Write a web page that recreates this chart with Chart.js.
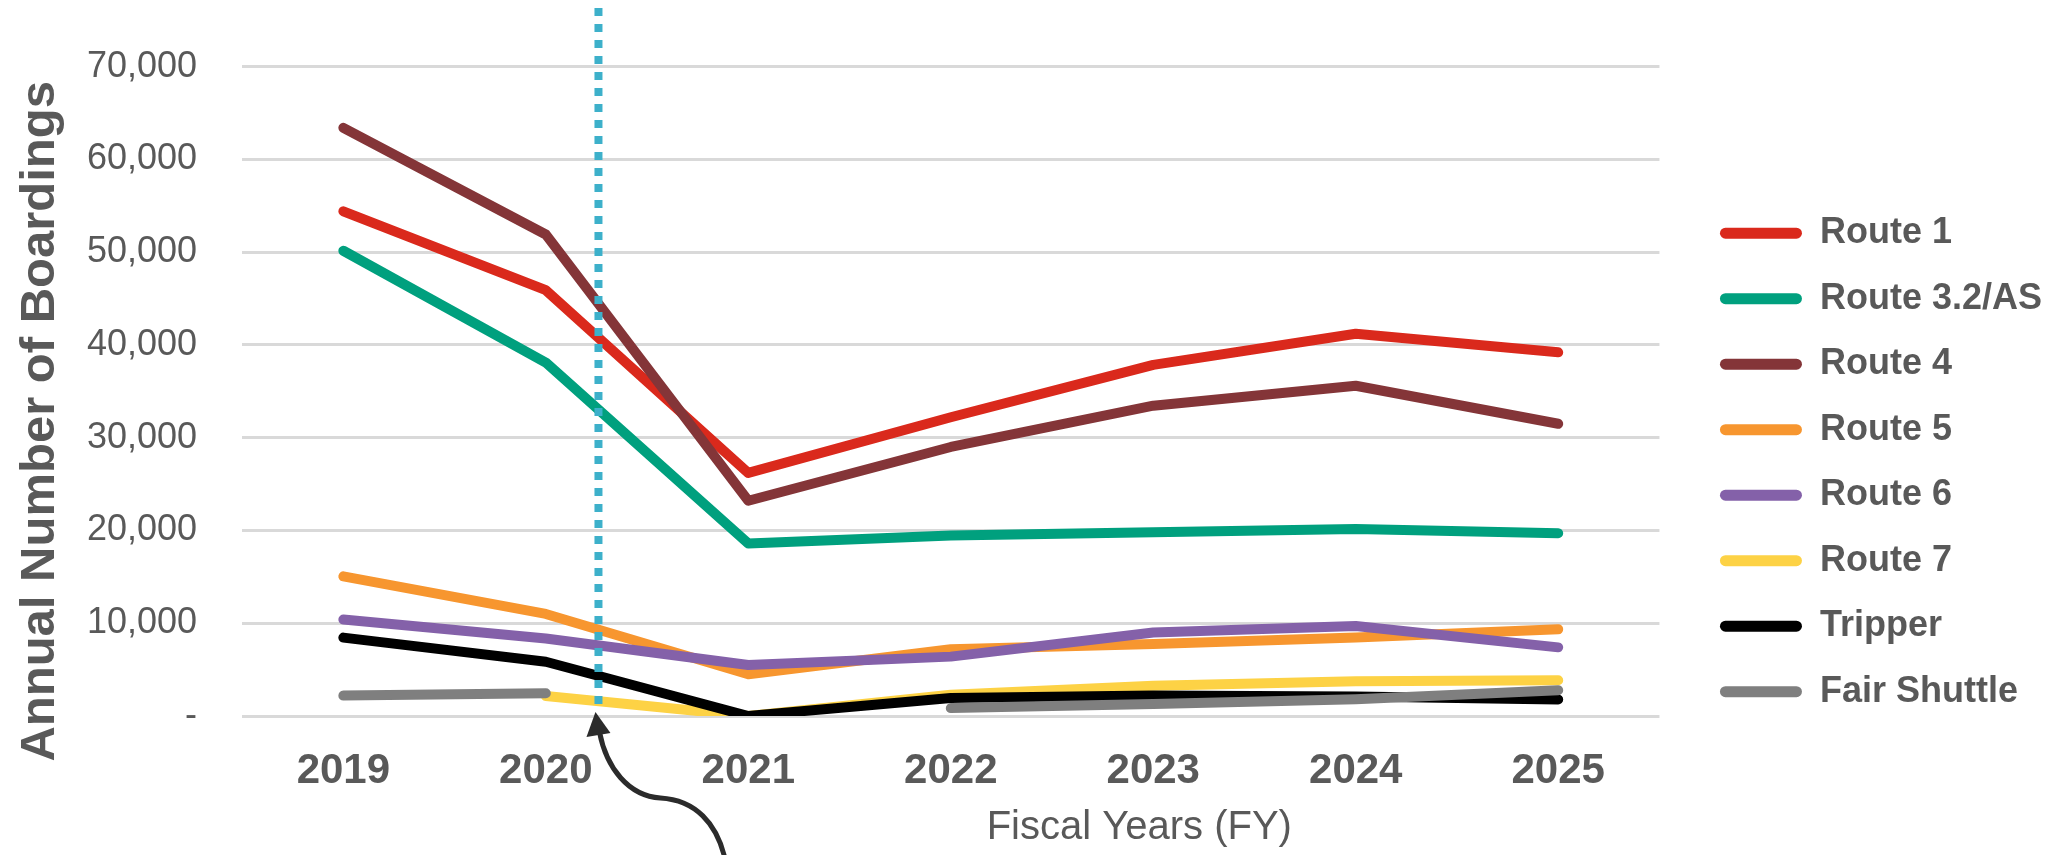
<!DOCTYPE html>
<html>
<head>
<meta charset="utf-8">
<script src="https://cdn.jsdelivr.net/npm/chart.js@4"></script>
<style>
  html, body { margin: 0; padding: 0; background: #ffffff; }
  #wrap { width: 2054px; height: 855px; position: relative; }
</style>
</head>
<body>
<div id="wrap"><canvas id="c"></canvas></div>
<script>
// ---- Data ----
const fiscalYears = ['2019', '2020', '2021', '2022', '2023', '2024', '2025'];
const seriesNames = ['Route 1', 'Route 3.2/AS', 'Route 4', 'Route 5', 'Route 6', 'Route 7', 'Tripper', 'Fair Shuttle'];
const route1      = [54400, 45900, 26200, 32200, 37850, 41200, 39200];
const route32AS   = [50150, 38100, 18600, 19450, 19800, 20150, 19700];
const route4      = [63400, 51900, 23200, 29000, 33450, 35600, 31500];
const route5      = [15050, 11000, 4500, 7200, 7750, 8450, 9350];
const route6      = [10400, 8350, 5500, 6400, 9000, 9700, 7400];
const route7      = [null, 2150, 0, 2300, 3250, 3750, 3850];
const tripper     = [8450, 5850, 0, 1950, 2200, 2100, 1780];
const fairShuttle = [2200, 2450, null, 850, 1300, 1800, 2780];
const yTickValues = [0, 10000, 20000, 30000, 40000, 50000, 60000, 70000];
const yAxisTitle = 'Annual Number of Boardings';
const xAxisTitle = 'Fiscal Years (FY)';
const covidMarkerIndex = 1.26; // position of the dotted marker between FY2020 and FY2021

const seriesValues = [route1, route32AS, route4, route5, route6, route7, tripper, fairShuttle];
const seriesColors = ['#DA291C', '#00A07E', '#843538', '#F7962F', '#8461A9', '#FDD245', '#000000', '#7F7F7F'];

const FONT = "'Liberation Sans', Arial, sans-serif";
const GRAY_TEXT = '#595959';

const datasets = seriesNames.map((name, i) => ({
  label: name,
  data: seriesValues[i],
  borderColor: seriesColors[i],
  backgroundColor: seriesColors[i],
  borderWidth: 10,
  borderCapStyle: 'round',
  borderJoinStyle: 'round',
  pointRadius: 0,
  pointHoverRadius: 0,
  fill: false,
  tension: 0,
  spanGaps: false,
  order: seriesNames.length - i
}));

const decorPlugin = {
  id: 'decor',
  afterLayout(chart) {
    // nudge the legend to the right to leave the gap seen in the reference
    const lg = chart.legend;
    if (lg) { lg.left += 31; lg.right += 31; }
  },
  afterDatasetsDraw(chart) {
    const ctx = chart.ctx;
    const xs = chart.scales.x, ys = chart.scales.y, ca = chart.chartArea;
    const x0 = xs.getPixelForValue(covidMarkerIndex);
    const yb = ys.getPixelForValue(0);
    // dotted marker line
    ctx.save();
    ctx.strokeStyle = '#3DB0CA';
    ctx.lineWidth = 8;
    ctx.setLineDash([8, 8]);
    ctx.beginPath();
    ctx.moveTo(x0, 8);
    ctx.lineTo(x0, yb - 12);
    ctx.stroke();
    ctx.restore();
    // curved arrow
    ctx.save();
    ctx.strokeStyle = '#2B2B2B';
    ctx.fillStyle = '#2B2B2B';
    ctx.lineWidth = 5;
    ctx.beginPath();
    ctx.moveTo(x0 + 1, yb + 16);
    ctx.bezierCurveTo(x0 + 8, yb + 52, x0 + 30, yb + 80, x0 + 62, yb + 82);
    ctx.bezierCurveTo(x0 + 95, yb + 84, x0 + 120, yb + 105, x0 + 128, yb + 150);
    ctx.stroke();
    ctx.beginPath();
    ctx.moveTo(x0 - 3, yb - 4);
    ctx.lineTo(x0 - 12, yb + 21);
    ctx.lineTo(x0 + 12, yb + 17);
    ctx.closePath();
    ctx.fill();
    ctx.restore();
    // axis titles
    ctx.save();
    ctx.fillStyle = GRAY_TEXT;
    ctx.font = 'bold 49px ' + FONT;
    ctx.textAlign = 'center';
    ctx.textBaseline = 'middle';
    ctx.translate(40, ca.top + (ca.bottom - ca.top) / 2 + 30);
    ctx.rotate(-Math.PI / 2);
    ctx.fillText(yAxisTitle, 0, 0);
    ctx.restore();
    ctx.save();
    ctx.fillStyle = GRAY_TEXT;
    ctx.font = '40px ' + FONT;
    ctx.textAlign = 'center';
    ctx.textBaseline = 'middle';
    ctx.fillText(xAxisTitle, ca.left + 0.633 * (ca.right - ca.left), ca.bottom + 112);
    ctx.restore();
  }
};

new Chart(document.getElementById('c'), {
  type: 'line',
  data: { labels: fiscalYears, datasets },
  options: {
    responsive: true,
    maintainAspectRatio: false,
    animation: false,
    devicePixelRatio: 1,
    layout: { padding: { left: 42, right: 33, top: 52, bottom: 27.4 } },
    plugins: {
      tooltip: { enabled: false },
      legend: {
        position: 'right',
        align: 'start',
        title: { display: true, text: '', font: { size: 1 }, padding: { top: 132.5, bottom: 0 } },
        labels: {
          sort: (a, b) => a.datasetIndex - b.datasetIndex,
          generateLabels(chart) {
            const items = Chart.defaults.plugins.legend.labels.generateLabels(chart);
            items.forEach(it => { it.lineWidth = 0; it.strokeStyle = it.fillStyle; });
            return items;
          },
          boxWidth: 82,
          boxHeight: 11,
          useBorderRadius: true,
          borderRadius: 5.5,
          padding: 29.5,
          color: GRAY_TEXT,
          font: { family: FONT, size: 36, weight: 'bold' }
        }
      }
    },
    scales: {
      x: {
        offset: true,
        grid: { display: false, drawTicks: false },
        border: { display: false },
        ticks: { color: GRAY_TEXT, padding: 30.6, font: { family: FONT, size: 42, weight: 'bold' } }
      },
      y: {
        min: 0,
        max: 70000,
        afterBuildTicks(scale) { scale.ticks = yTickValues.map(v => ({ value: v })); },
        grid: { color: '#D9D9D9', lineWidth: 3, drawTicks: false },
        border: { display: false },
        ticks: {
          color: GRAY_TEXT,
          padding: 45,
          font: { family: FONT, size: 36 },
          callback: v => v === 0 ? '-' : v.toLocaleString('en-US')
        }
      }
    }
  },
  plugins: [decorPlugin]
});
</script>
</body>
</html>
